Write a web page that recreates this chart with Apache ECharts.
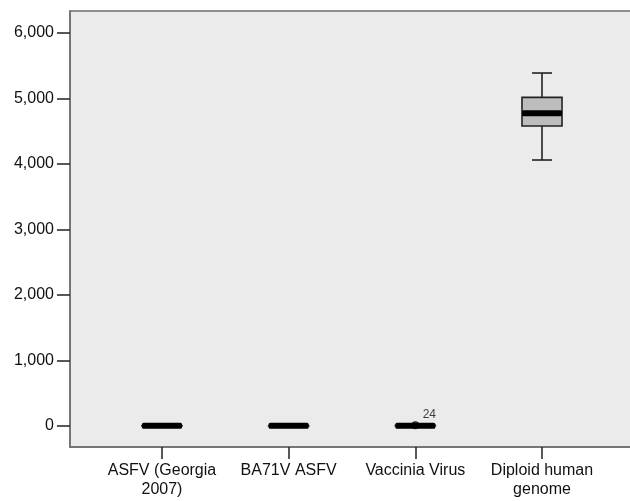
<!DOCTYPE html>
<html>
<head>
<meta charset="utf-8">
<script src="https://cdn.jsdelivr.net/npm/echarts@6/dist/echarts.min.js"></script>
<style>
html,body{margin:0;padding:0;background:#fff;}
#c{width:630px;height:501px;}
</style>
</head>
<body>
<div id="c"></div>
<script>
// Data
var categories = ['ASFV (Georgia\n2007)', 'BA71V ASFV', 'Vaccinia Virus', 'Diploid human\ngenome'];
var boxMin    = [2, 2, 3, 4058];
var boxQ1     = [3, 3, 4, 4577];
var boxMedian = [4, 4, 5, 4770];
var boxQ3     = [5, 5, 6, 5014];
var boxMax    = [7, 6, 8, 5385];
var outlierCategory = [2];
var outlierValue = [10];
var outlierLabel = ['24'];
var yTicks = [0, 1000, 2000, 3000, 4000, 5000, 6000];

var boxData = categories.map(function (c, i) {
  return [i, boxMin[i], boxQ1[i], boxMedian[i], boxQ3[i], boxMax[i]];
});
var outlierData = outlierCategory.map(function (c, i) {
  return { value: [c, outlierValue[i]], name: outlierLabel[i] };
});

function renderBox(params, api) {
  var x = api.value(0);
  var lo = api.coord([x, api.value(1)]);
  var q1 = api.coord([x, api.value(2)]);
  var med = api.coord([x, api.value(3)]);
  var q3 = api.coord([x, api.value(4)]);
  var hi = api.coord([x, api.value(5)]);
  var cx = lo[0];
  var bw = 40, cap = 20;
  var stroke = '#222';
  var lw = 1.6;
  return {
    type: 'group',
    children: [
      { type: 'line', shape: { x1: cx, y1: hi[1], x2: cx, y2: q3[1] }, style: { stroke: stroke, lineWidth: lw } },
      { type: 'line', shape: { x1: cx, y1: q1[1], x2: cx, y2: lo[1] }, style: { stroke: stroke, lineWidth: lw } },
      { type: 'line', shape: { x1: cx - cap / 2, y1: hi[1], x2: cx + cap / 2, y2: hi[1] }, style: { stroke: stroke, lineWidth: lw } },
      { type: 'line', shape: { x1: cx - cap / 2, y1: lo[1], x2: cx + cap / 2, y2: lo[1] }, style: { stroke: stroke, lineWidth: lw } },
      { type: 'rect', shape: { x: cx - bw / 2, y: q3[1], width: bw, height: q1[1] - q3[1] }, style: { fill: '#bdbdbd', stroke: stroke, lineWidth: lw } },
      { type: 'rect', shape: { x: cx - bw / 2, y: med[1] - 3, width: bw, height: 6, r: 1.5 }, style: { fill: '#000' } }
    ]
  };
}

var chart = echarts.init(document.getElementById('c'), null, { renderer: 'canvas' });
chart.setOption({
  backgroundColor: '#fff',
  animation: false,
  grid: {
    left: 70, top: 11, width: 566, height: 436,
    outerBoundsMode: 'none', containLabel: false,
    show: true, backgroundColor: '#ebebeb', borderColor: '#6e6e6e', borderWidth: 1.5
  },
  xAxis: {
    type: 'value',
    min: -0.726, max: 3.742,
    splitLine: { show: false },
    axisLine: { show: true, onZero: false, lineStyle: { color: '#6e6e6e', width: 1.5 } },
    axisTick: { show: true, length: 12, inside: false, customValues: [0, 1, 2, 3], lineStyle: { color: '#222', width: 1.5 } },
    axisLabel: {
      customValues: [0, 1, 2, 3],
      formatter: function (v) { return categories[Math.round(v)]; },
      fontFamily: 'Liberation Sans', fontSize: 16, color: '#111', lineHeight: 19, margin: 14
    }
  },
  yAxis: {
    type: 'value',
    min: -320, max: 6331,
    splitLine: { show: false },
    axisLine: { show: true, onZero: false, lineStyle: { color: '#6e6e6e', width: 1.5 } },
    axisTick: { show: true, length: 13, customValues: yTicks, lineStyle: { color: '#222', width: 1.5 } },
    axisLabel: {
      customValues: yTicks,
      formatter: function (v) { return v.toLocaleString('en-US'); },
      fontFamily: 'Liberation Sans', fontSize: 16, color: '#111', margin: 16
    }
  },
  series: [
    {
      type: 'custom',
      renderItem: renderBox,
      data: boxData,
      encode: { x: 0, y: [1, 2, 3, 4, 5] }
    },
    {
      type: 'scatter',
      data: outlierData,
      symbol: 'circle',
      symbolSize: 8,
      itemStyle: { color: '#000' },
      label: {
        show: true,
        formatter: '{b}',
        position: 'top',
        offset: [14, 4],
        fontFamily: 'Liberation Sans', fontSize: 12, color: '#111'
      }
    }
  ]
});
</script>
</body>
</html>
